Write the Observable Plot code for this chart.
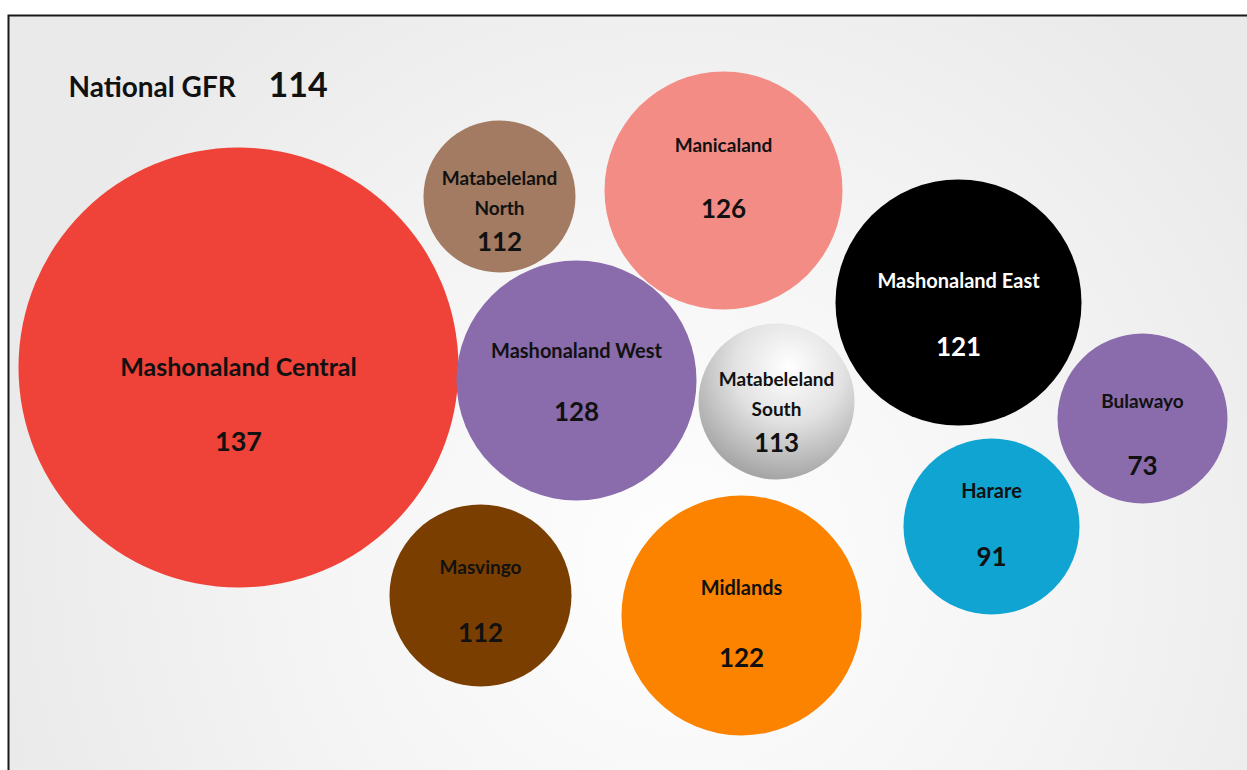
<!DOCTYPE html>
<html>
<head>
<meta charset="utf-8">
<script src="https://cdn.jsdelivr.net/npm/d3@7"></script>
<script src="https://cdn.jsdelivr.net/npm/@observablehq/plot@0.6"></script>
<style>
  html, body { margin: 0; padding: 0; background: #fff; overflow: hidden; }
  svg { display: block; }
</style>
</head>
<body>
<div id="chart"></div>
<script>
// ---- data ----
const regions = ["Mashonaland Central", "Matabeleland\nNorth", "Manicaland", "Mashonaland East",
  "Mashonaland West", "Matabeleland\nSouth", "Bulawayo", "Harare", "Masvingo", "Midlands"];
const gfr = [137, 112, 126, 121, 128, 113, 73, 91, 112, 122];
const nationalLabel = "National GFR";
const nationalGFR = 114;

// ---- layout (bubble placement, pixels) ----
const cx = [238, 499, 723, 958, 576, 776, 1142, 991, 480, 741];
const cy = [367, 196, 190, 302, 380, 401, 418, 526, 595, 615];
const radius = [220, 76, 119, 123, 120, 78, 85, 88, 91, 120];
const labelY = [363, 190, 142, 277, 347, 391, 398, 487, 564, 584];
const valueY = [442, 242, 209, 347, 412, 443, 466, 557, 633, 658];
const labelSize = [25, 19, 19, 20, 20, 19, 19, 20, 19, 20];
const valueSize = [27, 26, 26, 26, 26, 26, 26, 26, 26, 26];
const fills = ["#ef4238", "#a27b62", "#f48c86", "#000000", "#8a6bab", "url(#gradSouth)",
  "#8a6bab", "#10a4d3", "#7a3e00", "#fb8300"];
const textFills = ["#111", "#111", "#111", "#fff", "#111", "#111", "#111", "#111", "#111", "#111"];

const rows = regions.map((name, i) => ({
  name, value: gfr[i], cx: cx[i], cy: cy[i], r: radius[i],
  ly: labelY[i], vy: valueY[i], ls: labelSize[i], vs: valueSize[i],
  fill: fills[i], tfill: textFills[i]
}));

const font = "Lato, 'Open Sans', sans-serif";

const plot = Plot.plot({
  width: 1247,
  height: 770,
  margin: 0,
  style: { background: "#fff", fontFamily: font, overflow: "hidden" },
  x: { type: "linear", domain: [0, 1247], range: [0, 1247], axis: null },
  y: { type: "linear", domain: [0, 770], range: [0, 770], axis: null },
  r: { type: "linear", domain: [0, 300], range: [0, 300] },
  color: { type: "identity" },
  marks: [
    Plot.frame({ fill: "url(#gradBg)", stroke: "#1a1a1a", strokeWidth: 2,
      insetLeft: 8, insetTop: 15, insetRight: -10, insetBottom: -10 }),
    Plot.dot(rows, { x: "cx", y: "cy", r: "r", fill: "fill", stroke: null,
      style: "filter: drop-shadow(2px 3px 3px rgba(0,0,0,0.22))" }),
    Plot.text(rows, { x: "cx", y: "ly", text: "name", fill: "tfill", fontSize: "ls",
      fontWeight: "bold", lineHeight: 1.6, lineAnchor: "middle", textAnchor: "middle",
      style: "letter-spacing: 1.3px" }),
    Plot.text(rows, { x: "cx", y: "vy", text: d => String(d.value), fill: "tfill", fontSize: "vs",
      fontWeight: "bold", lineAnchor: "middle", textAnchor: "middle", style: "letter-spacing: 1px" }),
    Plot.text([nationalLabel], { x: 68, y: 88, text: d => d, fontSize: 28, fontWeight: "bold",
      fill: "#111", textAnchor: "start", lineAnchor: "middle", style: "letter-spacing: 0.9px" }),
    Plot.text([nationalGFR], { x: 268, y: 86, text: d => String(d), fontSize: 34, fontWeight: "bold",
      fill: "#111", textAnchor: "start", lineAnchor: "middle" })
  ]
});

// gradient definitions
const svg = d3.select(plot);
const defs = svg.insert("defs", ":first-child");
const bg = defs.append("radialGradient").attr("id", "gradBg")
  .attr("gradientUnits", "userSpaceOnUse")
  .attr("cx", 680).attr("cy", 560).attr("r", 700);
bg.append("stop").attr("offset", "0%").attr("stop-color", "#fefefe");
bg.append("stop").attr("offset", "55%").attr("stop-color", "#f4f4f4");
bg.append("stop").attr("offset", "100%").attr("stop-color", "#eaeaea");
const gs = defs.append("radialGradient").attr("id", "gradSouth")
  .attr("cx", "58%").attr("cy", "28%").attr("r", "78%");
gs.append("stop").attr("offset", "0%").attr("stop-color", "#ffffff");
gs.append("stop").attr("offset", "45%").attr("stop-color", "#e2e2e2");
gs.append("stop").attr("offset", "100%").attr("stop-color", "#9c9c9c");

document.getElementById("chart").appendChild(plot);
</script>
</body>
</html>
